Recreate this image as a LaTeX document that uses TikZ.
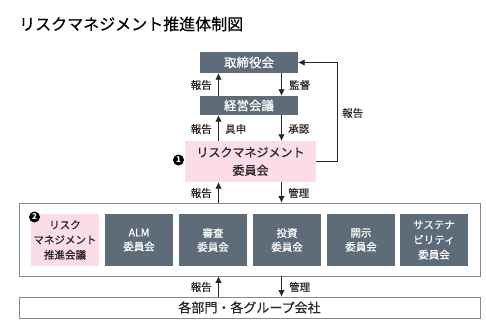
\documentclass[tikz,border=0pt]{standalone}
\usepackage{fontspec}
\setmainfont{Noto Sans CJK JP}
\newfontfamily\medfont{Noto Sans CJK JP}[FakeBold=0.7]
\newfontfamily\semifont{Noto Sans CJK JP}[FakeBold=0.35]
\usetikzlibrary{arrows.meta}
\definecolor{slate}{HTML}{5E6B78}
\definecolor{pinkbg}{HTML}{FCDCE7}
\definecolor{ink}{HTML}{2B2522}
\definecolor{frame}{HTML}{8A8A8A}
\tikzset{
  darkbox/.style={fill=slate, text=white, inner sep=0pt, align=center},
  pinkbox/.style={fill=pinkbg, text=ink, inner sep=0pt, align=center},
  framebox/.style={draw=frame, line width=0.7pt, fill=white, inner sep=0pt, align=center},
  lbl/.style={text=ink, font=\semifont\fontsize{10.5}{12}\selectfont, inner sep=0pt},
  arr/.style={draw=ink, line width=0.8pt, -{Latex[length=6.5pt,width=6.5pt]}},
  numc/.style={circle, fill=black, text=white, inner sep=0pt, minimum size=11pt, font=\fontsize{8}{8}\selectfont\bfseries},
}
\begin{document}
\begin{tikzpicture}[x=1pt,y=-1pt]
\useasboundingbox (0,0) rectangle (486,322);
\node[anchor=west, text=black, inner sep=0pt, font=\semifont\fontsize{16}{18}\selectfont] (title) at (19,24) {リスクマネジメント推進体制図};
\coordinate (xL) at (218.5,0);
\coordinate (xR) at (281.5,0);
\coordinate (xloop) at (337,0);
% top boxes
\node[darkbox, minimum width=98pt, minimum height=21pt, font=\medfont\fontsize{12.5}{14}\selectfont] (tori) at (249,62.5) {取締役会};
\node[darkbox, minimum width=98pt, minimum height=19pt, font=\medfont\fontsize{12.5}{14}\selectfont] (keiei) at (249,105.5) {経営会議};
\node[pinkbox, minimum width=131pt, minimum height=41pt, font=\medfont\fontsize{12}{18}\selectfont] (rmc) at (250.5,161.5) {リスクマネジメント\\委員会};
\node[numc] (n1) at (178.5,160) {1};
% big frame
\node[framebox, minimum width=461pt, minimum height=73pt] (frame) at (249.5,239.5) {};
\foreach \name/\cx/\txt in {alm/139/{ALM\\委員会}, shinsa/213/{審査\\委員会}, toushi/287/{投資\\委員会}, kaiji/361/{開示\\委員会}}{
  \node[darkbox, minimum width=68pt, minimum height=52pt, font=\medfont\fontsize{10.5}{14}\selectfont] (\name) at (\cx,240) {\txt};
}
\node[darkbox, minimum width=68pt, minimum height=52pt, font=\medfont\fontsize{10.5}{15}\selectfont] (sus) at (434,240) {サステナ\\ビリティ\\委員会};
\node[pinkbox, minimum width=68pt, minimum height=52pt, font=\medfont\fontsize{10.5}{15}\selectfont] (rmp) at (65,240) {リスク\\マネジメント\\推進会議};
\node[numc] (n2) at (34.5,217) {2};
% bottom box
\node[framebox, minimum width=461pt, minimum height=21pt, font=\semifont\fontsize{13}{15}\selectfont, text=ink] (depts) at (249.5,307.5) {各部門・各グループ会社};
% arrows
\draw[arr] (keiei.north -| xL) -- (tori.south -| xL);
\draw[arr] (tori.south -| xR) -- (keiei.north -| xR);
\draw[arr] (rmc.north -| xL) -- (keiei.south -| xL);
\draw[arr] (keiei.south -| xR) -- (rmc.north -| xR);
\draw[arr] (frame.north -| xL) -- (rmc.south -| xL);
\draw[arr] (rmc.south -| xR) -- (frame.north -| xR);
\draw[arr] (depts.north -| xL) -- (frame.south -| xL);
\draw[arr] (frame.south -| xR) -- (depts.north -| xR);
\draw[arr] (rmc.east) -- (rmc.east -| xloop) -- (tori.east -| xloop) -- (tori.east);
% labels
\node[lbl, anchor=east] (l1) at (212,85) {報告};
\node[lbl, anchor=west] (l2) at (289,85) {監督};
\node[lbl, anchor=east] (l3) at (212,129) {報告};
\node[lbl, anchor=west] (l4) at (225,129) {具申};
\node[lbl, anchor=west] (l5) at (288,129) {承認};
\node[lbl, anchor=east] (l6) at (212,193) {報告};
\node[lbl, anchor=west] (l7) at (288,193) {管理};
\node[lbl, anchor=east] (l8) at (212,287) {報告};
\node[lbl, anchor=west] (l9) at (289,287) {管理};
\node[lbl, anchor=west] (l10) at (342,113) {報告};
\end{tikzpicture}
\end{document}
